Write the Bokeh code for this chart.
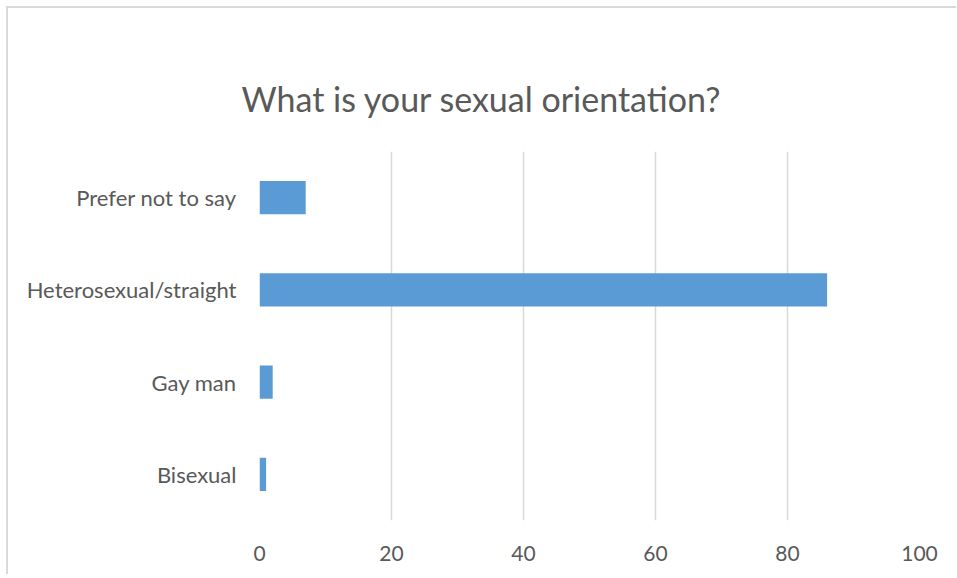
from bokeh.plotting import figure
from bokeh.models import Range1d, FactorRange, FixedTicker, Title, ColumnDataSource
from bokeh.embed import file_html
from bokeh.resources import INLINE

categories = ["Bisexual", "Gay man", "Heterosexual/straight", "Prefer not to say"]
counts = [1, 2, 86, 7]
x_ticks = [0, 20, 40, 60, 80, 100]
title_text = "What is your sexual orientation?"

FONT = "Lato"
TXT = "#595959"

src = ColumnDataSource(data=dict(cat=categories, val=counts))

p = figure(frame_width=660, frame_height=369, output_backend="svg", toolbar_location=None,
           x_range=Range1d(0, 100), y_range=FactorRange(factors=categories),
           min_border_left=251, min_border_right=37, min_border_top=143, min_border_bottom=54)
p.margin = (6, 0, 0, 6)

p.title = Title(text=title_text, align="left", offset=-18, text_font=FONT,
                text_font_size="34px", text_color=TXT, text_font_style="normal", standoff=66)

p.hbar(y="cat", right="val", left=0, height=0.36, source=src, color="#5b9bd5", line_color=None)

p.xaxis.ticker = FixedTicker(ticks=x_ticks)
for ax in (p.xaxis[0], p.yaxis[0]):
    ax.axis_line_color = None
    ax.major_tick_line_color = None
    ax.minor_tick_line_color = None
    ax.major_label_text_font = FONT
    ax.major_label_text_color = TXT
p.xaxis.major_label_text_font_size = "21px"
p.yaxis.major_label_text_font_size = "22px"
p.xaxis.major_label_standoff = 19
p.yaxis.major_label_standoff = 17

p.xgrid.grid_line_color = "#d9d9d9"
p.xgrid.grid_line_width = 1.5
p.ygrid.grid_line_color = None
p.outline_line_color = None
p.styles = {"border-top": "2px solid #d9d9d9", "border-left": "2px solid #d9d9d9"}

open("out.html", "w").write(file_html(p, INLINE))
